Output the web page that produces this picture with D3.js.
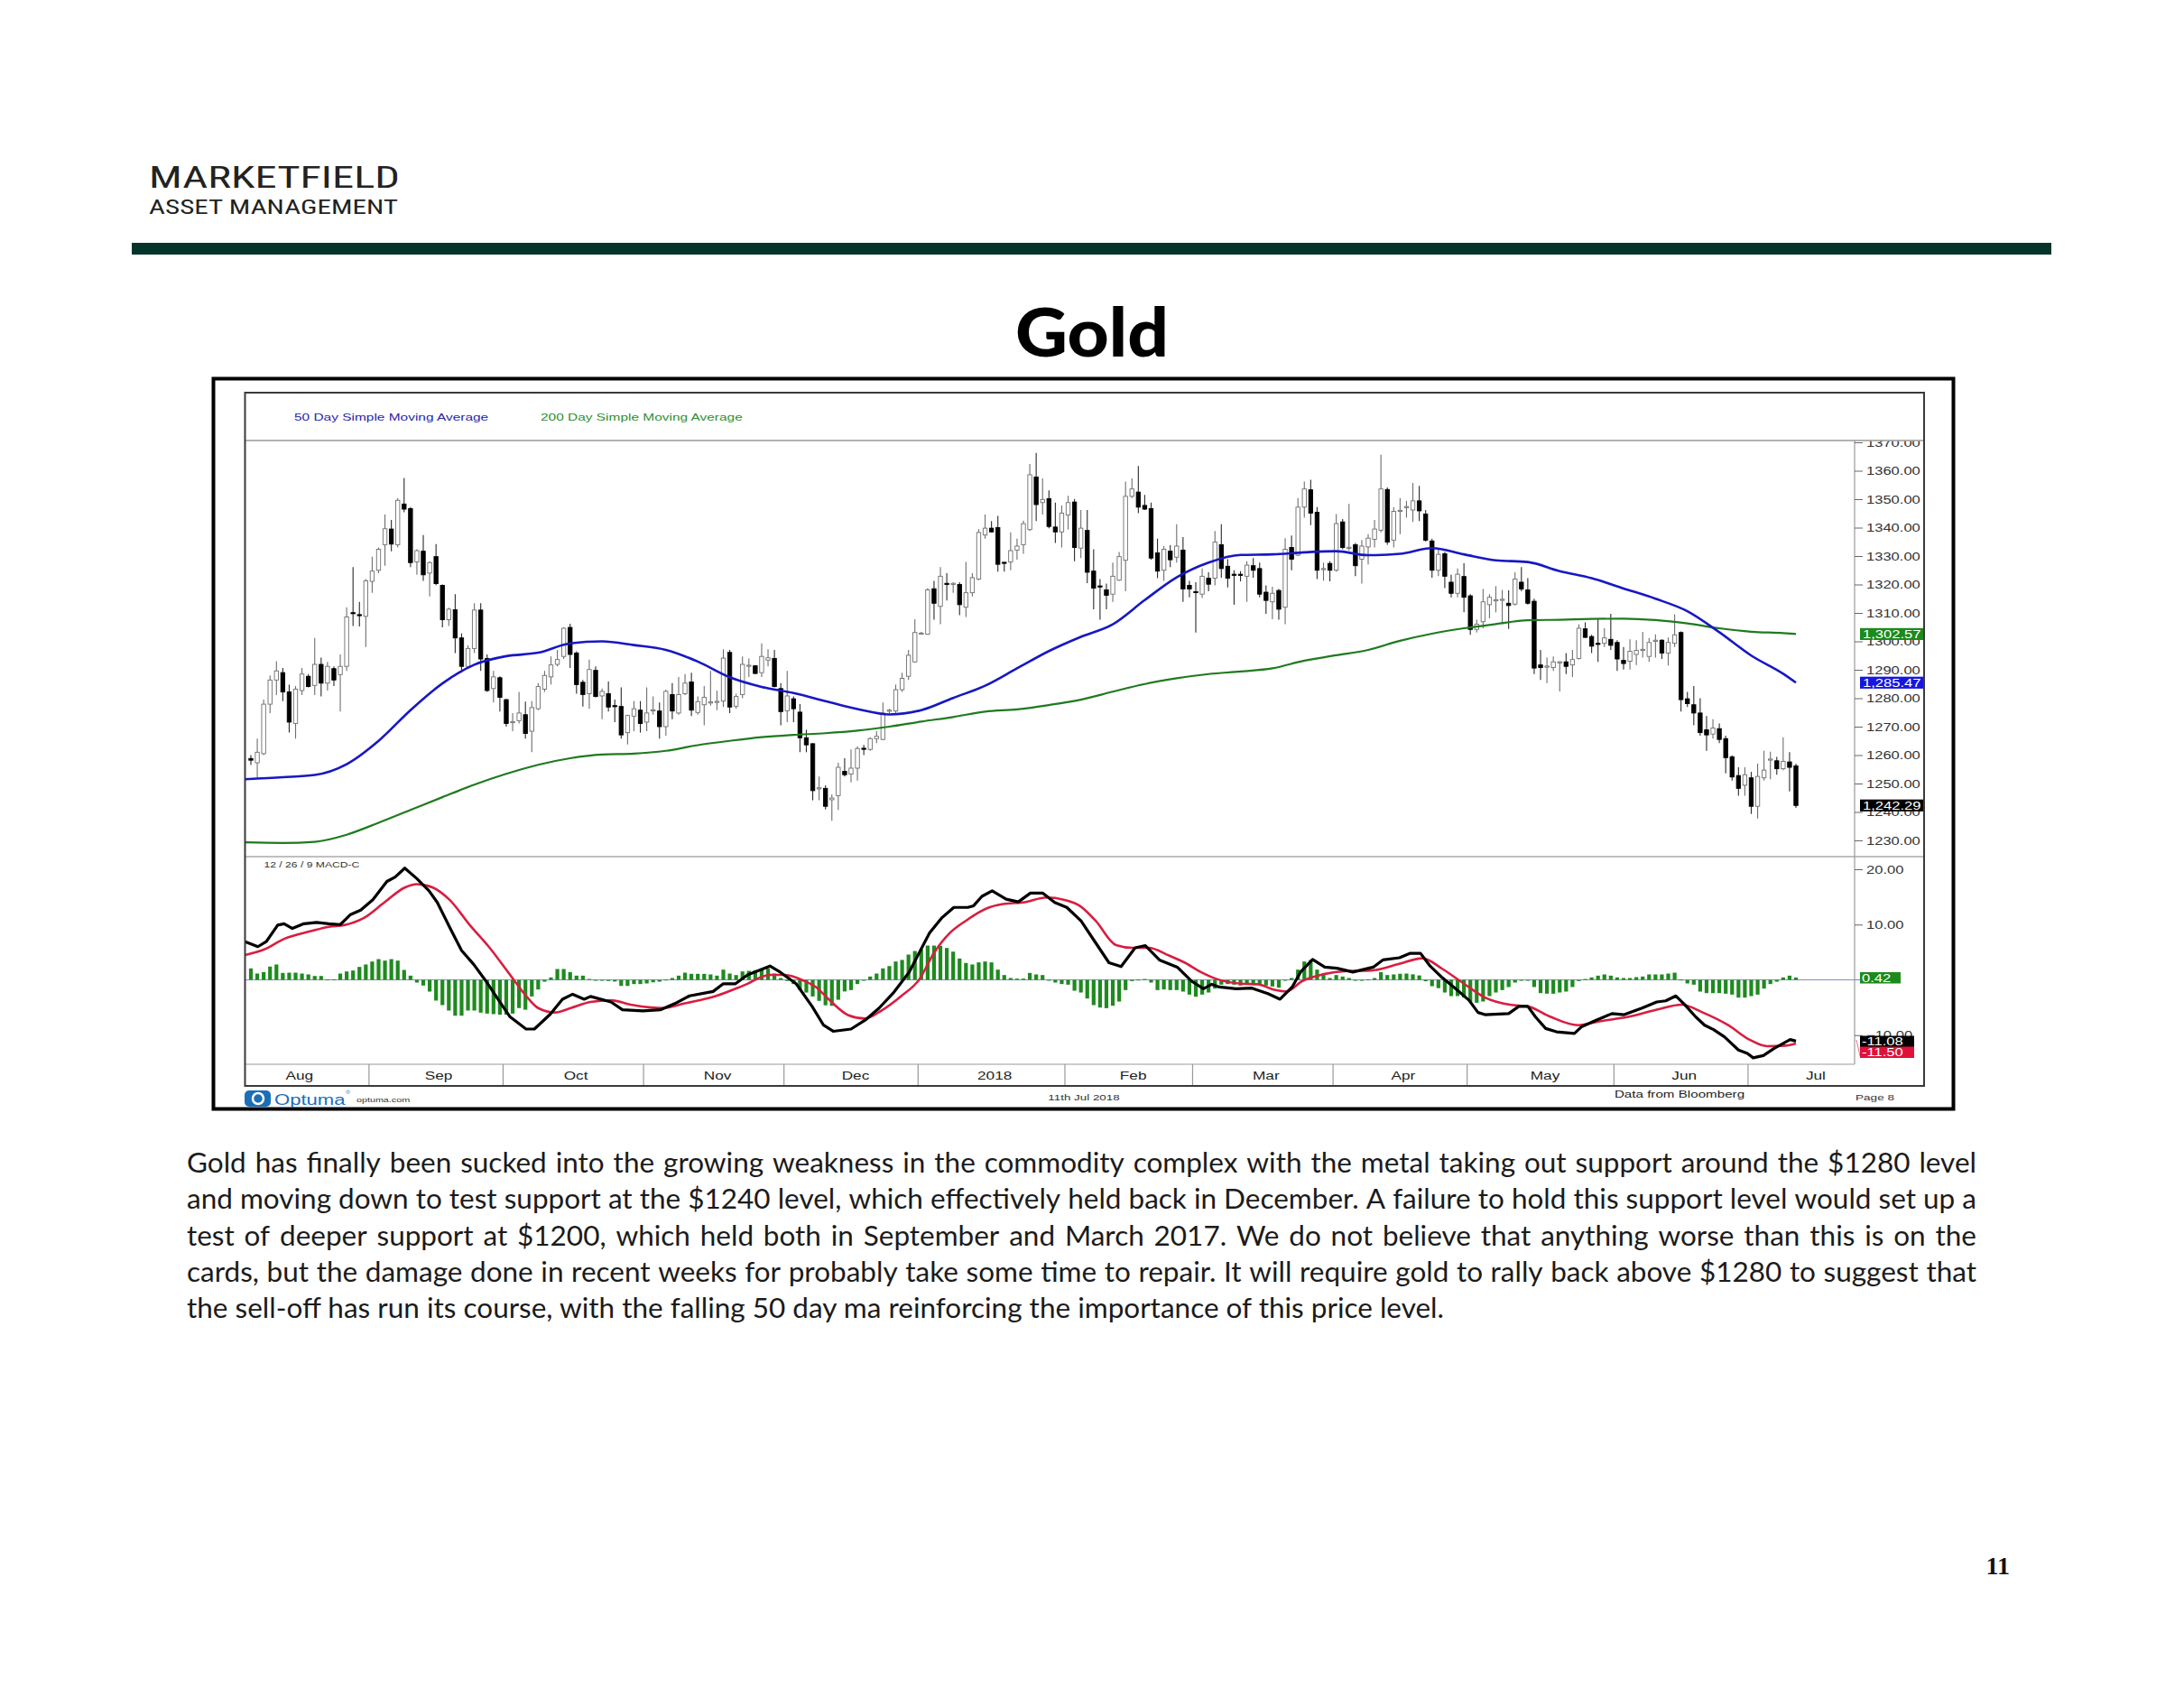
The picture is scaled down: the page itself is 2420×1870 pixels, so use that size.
<!DOCTYPE html>
<html><head><meta charset="utf-8">
<script src="https://cdn.jsdelivr.net/npm/d3@7"></script>
<style>html,body{margin:0;padding:0;background:#fff;}svg{display:block;}</style>
</head><body>
<svg id="c" width="2420" height="1870"></svg>
<script>
// ---------------- DATA ----------------
const monthLabels = ["Aug","Sep","Oct","Nov","Dec","2018","Feb","Mar","Apr","May","Jun","Jul"];
const monthLabelIdx = [7.6,29.4,50.9,73.1,94.7,116.5,138.2,159,180.5,202.7,224.5,245.1];
const monthStartIdx = [19,40,62,84,105,128,148,170,191,214,235];
const priceTicks = [1230,1240,1250,1260,1270,1280,1290,1300,1310,1320,1330,1340,1350,1360,1370];
const macdTicks = [-10,10,20];

const open = [
1258.8,1257.3,1260.5,1277.9,1286.4,1289,1282.2,1271.1,1282.7,1287.7,
1284.5,1291.9,1285.3,1290.4,1288.3,1291.2,1310.1,1309.4,1308.8,1321.1,
1325,1334,1339.5,1334,1348.3,1346.7,1327.9,1331.7,1324,1329.8,
1319.7,1307.6,1311.1,1301.2,1291.2,1297.5,1311,1294,1283.4,1287.2,
1279.5,1271.4,1272.1,1274.2,1268.4,1276.3,1283.2,1287.5,1291.9,1294.7,
1304.9,1295.9,1285.6,1281.6,1289.8,1280.8,1281.6,1277.4,1277.1,1267.9,
1273.7,1275.8,1271.6,1275.6,1275.5,1270,1281.3,1274.8,1281.6,1285.7,
1275,1277.7,1278.5,1278.8,1279,1296.1,1277.2,1281.3,1291.5,1291.4,
1289,1293.4,1294,1283.4,1275.6,1279.8,1275.1,1266.1,1264,1248.3,
1248.3,1244.3,1245.7,1254.3,1253.3,1255.4,1262.4,1262,1265.8,1265.5,
1275.6,1275.5,1283,1287.7,1292.8,1302.8,1302.5,1318.5,1312.3,1320.4,
1320.3,1320,1312,1317.1,1321.9,1337.4,1339.8,1340,1327.8,1327.9,
1332.1,1334,1339.3,1357.8,1348.8,1350.2,1340.2,1338.5,1344.4,1349,
1332.8,1339,1324.7,1319.5,1318.1,1316.6,1321.5,1328.5,1351,1352.5,
1347.8,1346.7,1331.1,1325,1331.7,1329.6,1332.1,1319.7,1317.5,1316.6,
1322.2,1322.2,1334,1326.4,1323.6,1323.6,1322.9,1326.6,1325.6,1317.3,
1313.9,1317.9,1312,1333,1330.3,1347.2,1353.3,1345.4,1325.3,1327.4,
1325,1342,1332.8,1334,1328.9,1333.2,1335.9,1339.1,1353.4,1335.6,
1345.9,1347.1,1346.2,1349.4,1344.8,1335.3,1325,1330.8,1320.8,1316.9,
1322.8,1316,1304.2,1306.9,1312.9,1314.4,1314.6,1313.4,1313.1,1320.8,
1318.1,1314.1,1291.7,1291.1,1290.8,1292.6,1292.8,1291.7,1294,1304.4,
1301.7,1299.3,1299.3,1300.7,1299.6,1293.3,1293,1295.4,1297,1294.7,
1300.2,1300.4,1295.9,1299.3,1303.1,1279.8,1277.7,1274.8,1268.9,1267.4,
1269.3,1265.8,1259.4,1252.8,1249.4,1252,1242,1252,1258.4,1258,
1255.2,1257.6,1256.2];
const high = [
1260,1265.8,1279.5,1288,1293,1290.6,1284.8,1284.3,1290.6,1288.5,
1301.2,1294.3,1292.8,1291.2,1295.4,1312,1326.1,1313.9,1321.9,1329.8,
1333,1344.6,1342.7,1350.4,1357.5,1347.2,1332.4,1337.4,1328.2,1334.2,
1320,1311.8,1316.6,1302.8,1298.6,1313.4,1313.4,1295.4,1289.6,1287.7,
1279.8,1274.8,1282.2,1278.8,1279,1285.3,1289.6,1294.7,1297,1304.9,
1306.2,1296.5,1286.4,1293.6,1291.2,1283.4,1285.9,1279.5,1283.8,1274.2,
1279,1279,1283.8,1280.6,1278.5,1283,1285.3,1287.5,1288.5,1289,
1280.6,1284.3,1289.6,1282.7,1297.2,1297,1281.6,1294.7,1294,1291.7,
1299.3,1297.2,1297,1285.3,1289.6,1280.6,1277.9,1268.9,1264.2,1252.5,
1249.4,1246.2,1257.3,1258.9,1262,1263.1,1263.6,1266.3,1268.4,1278.5,
1276.3,1284.8,1289,1297,1307.8,1303.3,1318.7,1321.3,1326.1,1324,
1320.8,1320.8,1327.9,1324,1339.5,1344.6,1342.3,1344.1,1327.9,1338.3,
1336.1,1342.5,1362.4,1366.3,1357.3,1353.1,1348.8,1347.8,1351.2,1350.1,
1346.2,1346.2,1332.4,1321.9,1320.3,1327.7,1331.4,1356.2,1357.3,1361.7,
1351.5,1348.8,1336.1,1333.5,1333.8,1341.2,1336.7,1321.3,1320.8,1325.6,
1324.3,1338.8,1341.2,1328.9,1325,1324.7,1328.2,1329.3,1327.7,1319.7,
1319.2,1318.4,1336.3,1337.2,1350.4,1356.2,1356.8,1347.2,1327.7,1328.2,
1344.8,1343,1348.3,1334.6,1335.6,1337.7,1342.7,1365.6,1354.1,1347.2,
1350.4,1349.4,1355.7,1354.7,1346.2,1336.1,1332.4,1331.4,1323.4,1325.6,
1327.5,1316.6,1307.6,1318.4,1316.6,1319.4,1318.1,1317.9,1324.3,1326.1,
1322.2,1315,1297,1294.3,1294.7,1293,1295.9,1297,1306,1306.7,
1302.3,1308.1,1304.6,1309.7,1300.4,1298,1300.7,1300.4,1303.3,1301.2,
1302.5,1300.7,1301.4,1309.5,1303.5,1282.2,1284.3,1280,1273.7,1272.6,
1271.1,1266.8,1259.9,1255.7,1255.7,1254.1,1257,1261.5,1261.2,1259.4,
1266.3,1261,1257];
const low = [
1256.5,1252,1260,1274.8,1281.1,1279,1267.9,1265.8,1281.1,1283.8,
1281.1,1280.6,1282.7,1284.3,1275.3,1289.6,1305.4,1305.2,1298,1317.1,
1324,1326.6,1331.7,1333,1345.4,1326.1,1323.4,1321.3,1315.8,1319.8,
1304.9,1305.4,1295.9,1289,1290.6,1295.9,1289.6,1282.2,1278.5,1275.3,
1270,1268.4,1271.1,1265.8,1261,1275.8,1282.2,1284.8,1291.2,1293.8,
1290.6,1281.6,1277.1,1276.3,1280.3,1272.6,1275.3,1271.6,1265.8,1263.7,
1268.4,1267.9,1268.4,1274.2,1265.8,1266.8,1272.6,1274.2,1281.1,1273.7,
1274.2,1270.5,1277.4,1275.8,1276.9,1274.8,1276.3,1280,1287.5,1288.5,
1287.5,1291.2,1283.8,1270.5,1271.6,1271.6,1261,1261,1244.1,1244.1,
1240.9,1236.9,1240.7,1252.5,1250.4,1251,1260,1261.5,1264.2,1265.2,
1274.8,1274.8,1282.2,1286.4,1292.5,1302.4,1302.3,1307.6,1306,1314.4,
1317.1,1309.2,1308.6,1315.8,1321.5,1336.1,1338.3,1324.5,1324.5,1325,
1328.7,1330.8,1338.8,1342.3,1344.6,1339.8,1334.6,1333,1339.3,1328.2,
1329.3,1320.5,1311.3,1307.6,1311.3,1313.9,1321.3,1317.6,1350.4,1345.1,
1346.2,1328.7,1322.2,1321.3,1326.1,1327.7,1313.9,1315.5,1303.1,1315.2,
1317.6,1319.7,1322.4,1319,1312.9,1321.1,1313.9,1322.4,1315.5,1309.7,
1307.8,1307.6,1306,1325,1330,1343.5,1340.9,1321.9,1321.3,1321.1,
1324.5,1332.4,1331.9,1322.9,1320.3,1327.1,1333,1338.3,1334,1333,
1337.7,1343.5,1342,1342.3,1335.1,1322.4,1322.9,1318.7,1315.5,1315.5,
1310.2,1302.3,1303.1,1304.6,1308.1,1310.2,1306,1304.4,1312.6,1317.6,
1312.9,1288.5,1286.4,1285.3,1289.6,1282.4,1288.5,1287.5,1293.6,1301.2,
1295.9,1292.8,1298,1297,1289.6,1290.1,1290.1,1291.7,1294.3,1292.8,
1294.3,1293.8,1291.5,1298,1275.3,1276.9,1270.5,1266.8,1261.5,1265.8,
1264.2,1253.6,1251,1245.7,1245.7,1239.3,1237.7,1251,1251.5,1253.1,
1254.7,1247.2,1241.4];
const close = [
1258.2,1261,1277.9,1286.4,1289.6,1282.2,1271.6,1283.2,1288.5,1284.1,
1291.9,1285.3,1291.2,1286.4,1291.2,1308.6,1309.9,1309.1,1321.3,1324.7,
1332.4,1339.6,1334.2,1349.6,1346.5,1327.7,1331.9,1323.4,1327.7,1320.3,
1307.6,1311.3,1301.2,1291.2,1297.5,1311,1293.8,1282.7,1287.5,1280.3,
1271.1,1271.8,1274.8,1267.6,1276.7,1284.1,1288,1291.7,1293.6,1304.6,
1295.4,1284.8,1281.3,1290.1,1280.6,1282.4,1276.9,1277.2,1267.1,1273.9,
1276.3,1271.1,1274.8,1275.9,1270,1282.4,1275.5,1281.3,1285.3,1275.8,
1278.8,1280.3,1278.7,1278.9,1294.1,1276.9,1280.6,1291.9,1291.6,1288.7,
1294.7,1294.2,1284.1,1275.3,1280.8,1276.3,1266.1,1263.6,1247.5,1248.5,
1242,1244.9,1255.7,1253.1,1255.4,1262.3,1262.2,1265.8,1266.6,1274.8,
1275.8,1283,1287,1295.1,1303.1,1302.9,1318.1,1313.4,1322.9,1320.1,
1320.4,1312.9,1317.1,1322.4,1338.3,1339.8,1338.5,1327.1,1327.6,1331.9,
1333.5,1341.4,1358.6,1348.1,1349.9,1340.4,1338.5,1345.1,1348.8,1333,
1339.8,1324.3,1318.7,1319.2,1316.2,1322.9,1329.8,1351,1353.6,1347.2,
1346.5,1329.3,1324.7,1332.4,1328.7,1333.5,1318.4,1318.4,1317.2,1322.9,
1320.1,1334.9,1325.6,1322.2,1323.4,1323.2,1326.8,1325,1316.6,1314.4,
1316.9,1311.3,1332.4,1328.9,1347.2,1353.6,1345.1,1325,1325.6,1325,
1341.4,1333,1333.1,1326.6,1333.5,1336.3,1339.5,1353.6,1334.9,1345.7,
1346.1,1347.4,1349.4,1345.9,1335.6,1325,1330.6,1322.9,1316.9,1323.6,
1315.5,1304.2,1306,1313.9,1315.5,1314.6,1314.8,1312.6,1321.9,1318.4,
1313.4,1290.6,1290.8,1291.3,1292.8,1292.8,1291.2,1293.6,1304.6,1301.4,
1298.3,1299.1,1301.2,1298.6,1293.8,1292.2,1296.5,1296.8,1297.2,1299.6,
1300.4,1295.9,1299.6,1302.3,1279.5,1278.1,1274.8,1267.9,1267.1,1269.5,
1265.5,1259.1,1252.3,1248.3,1253.1,1242,1252.5,1254.7,1258.6,1255.2,
1257.8,1255.7,1242.29];

const smaIdx = [-0.9,5,10,15,20,25,30,35,40,45,50,55,60,65,70,75,80,85,90,95,100,105,110,115,120,125,130,135,140,145,150,155,160,165,170,175,180,185,190,195,200,205,210,215,220,225,230,235,240,242];
const sma50 = [1251.5,1252.2,1253,1256.8,1265,1275.8,1285.2,1291.8,1294.8,1296,1299.3,1300,1298.7,1297,1292.9,1287.4,1284,1281.8,1279,1276.2,1274.3,1275.8,1280.1,1284.4,1290.5,1296.6,1301.6,1306,1314.5,1322.5,1327.7,1330.4,1330.6,1331.3,1331.7,1330.3,1330.8,1332.8,1330.6,1328.5,1327.9,1324.7,1322.2,1318.6,1315,1310.6,1303.2,1295,1288.6,1285.47];
const sma200 = [1229.3,1229.1,1229.5,1232,1236.2,1240.7,1245.2,1249.6,1253.4,1256.6,1258.9,1260.2,1260.5,1261.5,1263.5,1265,1266.3,1267.1,1267.7,1268.6,1270,1271.8,1273.4,1275.3,1276.1,1277.6,1279.5,1282.3,1285,1287,1288.5,1289.4,1290.5,1293.2,1295.1,1297,1300.2,1302.7,1304.6,1306.1,1307.4,1307.6,1307.9,1308,1307.5,1306.3,1304.6,1303.4,1302.9,1302.57];

const macdPts = [[-0.9,6.9],[1.1,6.0],[2.4,6.9],[4.2,9.9],[5.2,10.15],[6.5,9.3],[8.3,10.15],[10.3,10.4],[12.2,10.15],[14,10],[15.6,11.8],[17.2,12.6],[19.1,14.5],[21.3,17.8],[22.6,18.6],[24.1,20.2],[26,18.3],[27.9,16.1],[29.2,14],[31.1,9.6],[33,5.3],[34.9,2.8],[36.8,-0.2],[38.7,-3.5],[40.6,-6.7],[43.1,-8.9],[44.4,-8.9],[46.9,-6.2],[48.8,-3.5],[50.4,-2.6],[52.2,-3.5],[53.2,-3],[56.4,-4],[58.2,-5.4],[61.4,-5.6],[64.2,-5.4],[66.4,-4.3],[68.7,-2.9],[72.4,-2.1],[74,-0.7],[75.9,-0.7],[77.8,0.9],[81.3,2.5],[82.9,1.4],[85.4,-0.7],[87.9,-4.8],[89.7,-8.2],[91.2,-9.3],[94,-8.9],[96.2,-7.3],[98.4,-5.1],[100.6,-2.4],[103.1,1.4],[106.3,8.5],[108.2,11.2],[110.1,13.1],[112.3,13.1],[113.2,13.4],[114.5,15.1],[116.1,16.1],[118.3,14.6],[120.2,14.1],[122.1,15.7],[124,15.7],[125.9,14],[127.8,13.1],[130,10.7],[132.2,6.9],[134.4,3.1],[136.3,2.4],[138.5,5.8],[140.1,6.2],[142.3,3.6],[145.1,2.3],[147.3,-0.2],[149.2,-1.6],[150.5,-0.8],[151.7,-1.3],[154.3,-1.6],[156.8,-1.5],[159.3,-2.5],[161.2,-3.5],[163.1,-1.3],[164.4,1.4],[166.3,3.7],[168.2,2.3],[170.1,2.1],[172.6,1.4],[175.8,2.3],[177.3,3.6],[179.9,4.0],[181.6,4.8],[183.2,4.8],[184.7,2.5],[186.6,0.4],[188.9,-1.8],[190.8,-3.7],[192.2,-5.9],[193.3,-6.3],[197,-6.1],[198.6,-4.8],[200,-4.8],[201.2,-6.7],[202.8,-8.8],[204.5,-9.4],[207.3,-9.7],[208.4,-8.5],[210.7,-7.3],[213.2,-6.1],[215.1,-6.3],[217.9,-5.1],[220.2,-4],[221.6,-3.8],[223.2,-2.9],[224.6,-4.5],[226.3,-6.7],[227.7,-8.2],[229.1,-9],[230.8,-10.3],[233,-12.7],[234.4,-13.3],[235.3,-14.1],[236.9,-13.7],[238.6,-12.4],[241.1,-10.8],[242,-11.08]];
const signalPts = [[-0.9,4.5],[2.1,5.5],[5.2,7.4],[9.4,8.8],[12.2,9.6],[14.6,9.9],[17.7,11.2],[20.9,14],[24.1,16.7],[26,17.3],[28.5,16.7],[31.1,14.5],[34.3,9.9],[37.4,5.8],[40.6,0.9],[43.1,-2.9],[45,-5.1],[47.6,-5.9],[50.1,-5.1],[53.2,-4],[56.4,-3.7],[59.5,-4.5],[62.7,-5],[64.6,-5.1],[67.8,-4.3],[72.9,-2.9],[77.2,-1],[81.3,0.9],[83.6,0.9],[86.7,-0.2],[88.5,-1.3],[90.5,-3.5],[93.6,-6.4],[96.2,-7],[98.7,-5.6],[101.9,-2.9],[104.7,0.1],[106.9,4.7],[109.5,8.5],[112,10.7],[115.2,12.9],[117.8,13.7],[120.9,14],[124.7,14.9],[127.3,14.5],[129.8,13.4],[132.3,10.7],[135.5,6.3],[138.1,5.8],[140.6,5.8],[143.8,4.4],[146.3,3.1],[148.8,1.4],[151.4,0.1],[155.2,-0.7],[157.7,-0.8],[160.3,-1.8],[162.2,-2.1],[164.7,-0.2],[167.9,1],[171.7,1.6],[175.5,1.7],[179.6,2.8],[183.5,3.9],[186.6,2.0],[190,-0.7],[193.3,-3.2],[197.2,-4.5],[200,-4.8],[203.4,-6.6],[207.9,-8.2],[211.2,-7.5],[215.7,-6.7],[220.2,-5.4],[224.1,-4.5],[227.4,-5.9],[231.4,-8.2],[234.7,-10.8],[237.5,-12],[240.3,-11.9],[242,-11.5]];
const hist = [
2.07,1.14,1.41,2.4,2.78,1.25,1.3,1.3,1.14,0.98,
0.7,0.7,0.1,0.1,1.14,1.52,1.69,2.34,2.78,3.32,
3.75,3.48,3.75,3.48,1.8,0.76,-0.49,-1.03,-2.12,-3.75,
-4.57,-5.55,-6.48,-6.48,-5.55,-5.55,-5.93,-6.1,-6.2,-6.3,
-6.3,-6.1,-5.1,-5.4,-3,-1.74,-0.33,0.44,1.96,1.96,
1.41,0.76,0.76,0.16,-0.05,-0.1,-0.2,-0.3,-1.1,-1.1,
-0.76,-0.76,-0.65,-0.44,-0.33,0.05,0.33,0.76,1.3,1.09,
1.09,1.09,0.98,0.76,1.85,1.14,0.87,1.52,1.63,1.74,
1.96,2.07,1.14,0.33,-0.2,-0.76,-1.85,-2.3,-3.0,-3.8,
-4.6,-4.7,-3.6,-2.1,-1.85,-0.76,-0.1,0.6,1.14,2.07,
2.5,3.32,3.6,4.57,5.22,5.5,6.2,6.2,6.15,5.77,
5.1,3.86,3.05,2.78,3.16,3.32,3.16,1.85,0.87,0.33,
0.22,0.22,1.25,0.98,0.87,0,-0.49,-0.76,-0.87,-1.96,
-2.29,-3.37,-4.57,-5.01,-5.12,-4.68,-3.92,-1.85,-0.22,0.05,
0.16,-0.49,-1.85,-1.74,-1.85,-1.85,-2.12,-2.67,-3.05,-2.67,
-2.29,-1.58,-0.87,-0.76,-0.87,-1.03,-0.76,-0.65,-0.87,-1.03,
-1.2,-1.41,0,0.33,1.85,3.32,3.6,1.85,1.14,0.33,
0.87,0.6,0.33,0,0,0.1,0.33,1.41,0.87,0.98,
1.1,1.14,1.0,0.8,-0.25,-1.15,-1.5,-2.29,-2.94,-2.94,
-3.21,-4.03,-4.14,-3.92,-2.94,-2.29,-1.85,-1.3,-0.49,-0.1,
0,-1.3,-2.4,-2.5,-2.5,-2.29,-2.12,-1.3,-0.22,0.16,
0.44,0.76,0.98,0.76,0.44,0.33,0.33,0.49,0.6,0.98,
0.98,0.98,1.14,1.3,0.05,-0.65,-0.87,-2.12,-2.4,-2.4,
-2.4,-2.5,-2.67,-3.21,-3.21,-2.94,-2.67,-1.58,-0.76,-0.33,
0.44,0.76,0.42];

const lastPrice = [{v:1302.57,c:"#1c8a1c"},{v:1285.47,c:"#1616e0"},{v:1242.29,c:"#000"}];
const lastMacd = [{v:0.42,c:"#1c8a1c",top:1077,w:45},{v:-11.08,c:"#000",top:1147.5,w:60},{v:-11.50,c:"#e0103a",top:1159.5,w:60}];

const paragraph = [
"Gold has finally been sucked into the growing weakness in the commodity complex with the metal taking out support around the $1280 level",
"and moving down to test support at the $1240 level, which effectively held back in December. A failure to hold this support level would set up a",
"test of deeper support at $1200, which held both in September and March 2017. We do not believe that anything worse than this is on the",
"cards, but the damage done in recent weeks for probably take some time to repair. It will require gold to rally back above $1280 to suggest that",
"the sell-off has run its course, with the falling 50 day ma reinforcing the importance of this price level."];

// ---------------- DRAW ----------------
const svg = d3.select("#c");
svg.append("rect").attr("width",2420).attr("height",1870).attr("fill","#fff");
const SX = 1.38;
const FONT = '"Liberation Sans", Arial, sans-serif';
function T(p, x, y, s, size, fill, anchor){
  return p.append("text").attr("transform",`translate(${x},${y}) scale(${SX},1)`)
    .attr("font-family",FONT).attr("font-size",size).attr("fill",fill)
    .attr("text-anchor",anchor||"start").text(s);
}

// header
svg.append("text").attr("x",165).attr("y",208).attr("font-family",'"Liberation Sans Narrow","Roboto Condensed",Roboto,sans-serif')
  .attr("font-size",34).attr("fill","#222").attr("textLength",278).attr("lengthAdjust","spacingAndGlyphs").text("MARKETFIELD");
svg.append("text").attr("x",165).attr("y",237).attr("font-family",'"Liberation Sans Narrow","Roboto Condensed",Roboto,sans-serif')
  .attr("font-size",22).attr("fill","#222").attr("textLength",276).attr("lengthAdjust","spacingAndGlyphs").text("ASSET MANAGEMENT");
svg.append("rect").attr("x",146).attr("y",269).attr("width",2127).attr("height",13).attr("fill","#05352a");
svg.append("text").attr("x",1210).attr("y",395).attr("text-anchor","middle").attr("font-family","Lato, sans-serif")
  .attr("font-weight",900).attr("font-size",75).attr("fill","#000").attr("textLength",170).attr("lengthAdjust","spacingAndGlyphs").text("Gold");

// chart frame
svg.append("rect").attr("x",236.5).attr("y",419.5).attr("width",1928).attr("height",809)
  .attr("fill","#fff").attr("stroke","#000").attr("stroke-width",4);

const L = 271.5, R = 2132, AX = 2055;
const x = d3.scaleLinear().domain([0,242]).range([278,1990]);
const yP = d3.scaleLinear().domain([1230,1370]).range([931,490]);
const yM = d3.scaleLinear().domain([-10,20]).range([1146.75,963]);

const defs = svg.append("defs");
defs.append("clipPath").attr("id","cp").append("rect").attr("x",L).attr("y",488).attr("width",AX-L).attr("height",949-488);
defs.append("clipPath").attr("id","cm").append("rect").attr("x",L).attr("y",949).attr("width",AX-L).attr("height",1179-949);
defs.append("clipPath").attr("id","cpa").append("rect").attr("x",AX).attr("y",488.8).attr("width",R-AX).attr("height",949-488.8);
defs.append("clipPath").attr("id","cma").append("rect").attr("x",AX).attr("y",949.8).attr("width",R-AX).attr("height",1179-949.8);

// legend
T(svg,326,466,"50 Day Simple Moving Average",11.2,"#2727a8");
T(svg,599,466,"200 Day Simple Moving Average",11.2,"#2f8f2f");

// separators
svg.append("line").attr("x1",L).attr("x2",R).attr("y1",488).attr("y2",488).attr("stroke","#999").attr("stroke-width",1.6);
svg.append("line").attr("x1",L).attr("x2",R).attr("y1",949).attr("y2",949).attr("stroke","#aaa").attr("stroke-width",1.6);
svg.append("line").attr("x1",L).attr("x2",AX).attr("y1",1179).attr("y2",1179).attr("stroke","#999").attr("stroke-width",1.2);
svg.append("line").attr("x1",AX).attr("x2",AX).attr("y1",488).attr("y2",1179).attr("stroke","#999").attr("stroke-width",1.2);

// price panel
const gp = svg.append("g").attr("clip-path","url(#cp)");
const idx = d3.range(open.length);
const bw = 4.4;
const cg = gp.selectAll("g.cd").data(idx).join("g");
cg.append("line").attr("x1",i=>x(i)).attr("x2",i=>x(i)).attr("y1",i=>yP(high[i])).attr("y2",i=>yP(low[i]))
  .attr("stroke",i=>close[i]>=open[i]?"#6e6e6e":"#2a2a2a").attr("stroke-width",1.1);
cg.append("rect").attr("x",i=>x(i)-bw/2).attr("width",bw)
  .attr("y",i=>yP(Math.max(open[i],close[i])))
  .attr("height",i=>Math.max(1.2,Math.abs(yP(open[i])-yP(close[i]))))
  .attr("fill",i=>close[i]>=open[i]?"#fff":"#000")
  .attr("stroke",i=>close[i]>=open[i]?"#6e6e6e":"#000").attr("stroke-width",0.9);

const smaPts = (arr)=>smaIdx.map((k,j)=>[k,arr[j]]);
const lineP = d3.line().x(d=>x(d[0])).y(d=>yP(d[1])).curve(d3.curveMonotoneX);
gp.append("path").attr("d",lineP(smaPts(sma200))).attr("fill","none").attr("stroke","#1f7a1f").attr("stroke-width",2.2);
gp.append("path").attr("d",lineP(smaPts(sma50))).attr("fill","none").attr("stroke","#1717c4").attr("stroke-width",2.6);

// axis helper (clip on outer group, transform on inner group)
function yAxis(scale, ticks, clipId){
  const outer = svg.append("g").attr("clip-path",`url(#${clipId})`);
  const a = outer.append("g").attr("transform",`translate(${AX},0)`)
    .call(d3.axisRight(scale).tickValues(ticks).tickSize(9).tickFormat(d3.format(".2f")));
  a.select(".domain").remove();
  a.selectAll(".tick line").attr("stroke","#666");
  a.selectAll(".tick text").attr("x",0).attr("dy",null).attr("dominant-baseline","central")
    .attr("transform",`translate(13,0) scale(${SX},1)`).attr("font-family",FONT).attr("font-size",12).attr("fill","#333");
  return a;
}
yAxis(yP, priceTicks, "cpa");

lastPrice.forEach(d=>{
  const yy = yP(d.v);
  svg.append("rect").attr("x",2061).attr("y",yy-6.6).attr("width",R-2061).attr("height",13.2).attr("fill",d.c);
  T(svg,2064,yy+4.4,d3.format(",.2f")(d.v),12,"#fff");
});

// MACD panel
const gm = svg.append("g").attr("clip-path","url(#cm)");
T(gm,292.5,961,"12 / 26 / 9 MACD-C",8.8,"#333");
gm.append("line").attr("x1",L).attr("x2",AX).attr("y1",yM(0)).attr("y2",yM(0)).attr("stroke","#7d8fc4").attr("stroke-width",1.2);
gm.selectAll("rect.h").data(idx).join("rect")
  .attr("x",i=>x(i)-2.1).attr("width",4.2)
  .attr("y",i=>hist[i]>=0?yM(hist[i]):yM(0))
  .attr("height",i=>Math.max(1,Math.abs(yM(hist[i])-yM(0))))
  .attr("fill","#1f8a1f");
const lineM = d3.line().x(d=>x(d[0])).y(d=>yM(d[1]));
gm.append("path").attr("d",lineM.curve(d3.curveMonotoneX)(signalPts)).attr("fill","none").attr("stroke","#d81e40").attr("stroke-width",2.6);
gm.append("path").attr("d",lineM.curve(d3.curveLinear)(macdPts)).attr("fill","none").attr("stroke","#000").attr("stroke-width",3.2).attr("stroke-linejoin","round");

yAxis(yM, macdTicks, "cma");
svg.append("line").attr("x1",AX).attr("x2",2061).attr("y1",yM(0)).attr("y2",yM(0)).attr("stroke","#7d8fc4").attr("stroke-width",1.2);
svg.append("line").attr("x1",AX+2).attr("x2",2061).attr("y1",1152).attr("y2",1170).attr("stroke","#e05070").attr("stroke-width",0.8);
lastMacd.forEach(d=>{
  svg.append("rect").attr("x",2061).attr("y",d.top).attr("width",d.w).attr("height",12.5).attr("fill",d.c);
  T(svg,2063,d.top+10.6,d3.format(".2f")(d.v).replace("\u2212","-"),12,"#fff");
});

// time axis
svg.selectAll("line.ms").data(monthStartIdx).join("line")
  .attr("x1",d=>x(d-0.5)).attr("x2",d=>x(d-0.5)).attr("y1",1179).attr("y2",1203).attr("stroke","#999").attr("stroke-width",1.2);
monthLabels.forEach((m,k)=>T(svg,x(monthLabelIdx[k]),1195.5,m,12.5,"#222","middle"));

// inner frame
svg.append("rect").attr("x",L).attr("y",435).attr("width",R-L).attr("height",1203-435)
  .attr("fill","none").attr("stroke","#3a3a3a").attr("stroke-width",2);

// footer of chart
const lg = svg.append("g");
lg.append("rect").attr("x",271).attr("y",1208).attr("width",29).attr("height",18).attr("rx",5).attr("fill","#1b6fb8");
lg.append("circle").attr("cx",286).attr("cy",1217).attr("r",6).attr("fill","none").attr("stroke","#fff").attr("stroke-width",2.5);
lg.append("circle").attr("cx",287).attr("cy",1218).attr("r",2.6).attr("fill","#1b6fb8");
T(lg,304,1224,"Optuma",16,"#1b6fb8");
T(lg,383,1212,"®",5,"#1b6fb8");
T(lg,395,1220.5,"optuma.com",7.8,"#333");
T(svg,1201,1219,"11th Jul 2018",9.7,"#333","middle");
T(svg,1861,1215.5,"Data from Bloomberg",11,"#222","middle");
T(svg,2077.5,1219,"Page 8",9.8,"#333","middle");

// paragraph
const pg = svg.append("g").attr("font-family","Lato, sans-serif").attr("fill","#1b1b1b");
const probe = pg.append("text").attr("font-size",100).text(paragraph[4]);
const w100 = probe.node().getComputedTextLength(); probe.remove();
const fs = 100*1393/w100;
paragraph.forEach((line,k)=>{
  const yy = 1299 + k*40.3;
  const t = pg.append("text").attr("font-size",fs).attr("y",yy);
  if(k<4){
    const words = line.split(" ");
    const ws = words.map(w=>{const p=pg.append("text").attr("font-size",fs).text(w);const l=p.node().getComputedTextLength();p.remove();return l;});
    const gap = (1983 - d3.sum(ws))/(words.length-1);
    let cx = 207;
    words.forEach((w,j)=>{t.append("tspan").attr("x",cx).attr("y",yy).text(w);cx+=ws[j]+gap;});
  } else { t.attr("x",207).text(line); }
});

// page number
svg.append("text").attr("x",2227).attr("y",1744).attr("text-anchor","end").attr("font-family",'"Liberation Serif","Times New Roman",serif')
  .attr("font-weight","bold").attr("font-size",28).attr("fill","#111").text("11");
</script>
</body></html>
